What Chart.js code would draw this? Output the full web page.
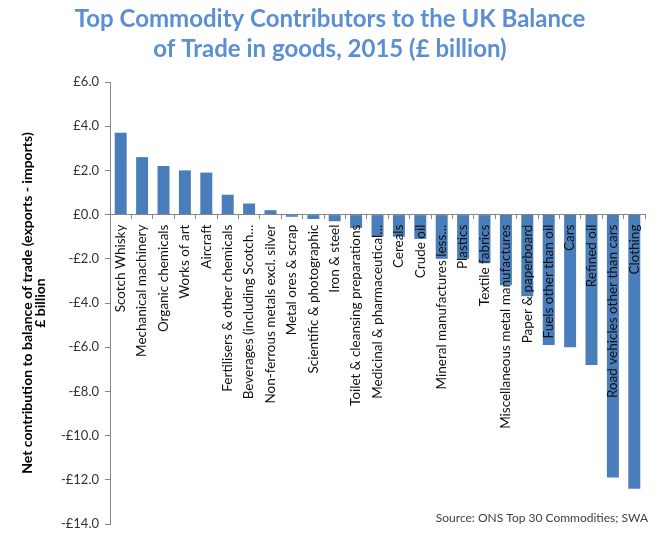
<!DOCTYPE html>
<html>
<head>
<meta charset="utf-8">
<script src="https://cdn.jsdelivr.net/npm/chart.js@4"></script>
<style>
  html, body { margin: 0; padding: 0; background: #fff; }
  #wrap { width: 660px; height: 540px; }
</style>
</head>
<body>
<div id="wrap"><canvas id="graficoBalanza"></canvas></div>
<script>
var categorias = [
    'Scotch Whisky', 'Mechanical machinery', 'Organic chemicals', 'Works of art', 'Aircraft',
    'Fertilisers & other chemicals', 'Beverages (including Scotch\u2026', 'Non-ferrous metals excl. silver',
    'Metal ores & scrap', 'Scientific & photographic', 'Iron & steel', 'Toilet & cleansing preparations',
    'Medicinal & pharmaceutical\u2026', 'Cereals', 'Crude oil', 'Mineral manufactures less\u2026',
    'Plastics', 'Textile fabrics', 'Miscellaneous metal manufactures', 'Paper & paperboard',
    'Fuels other than oil', 'Cars', 'Refined oil', 'Road vehicles other than cars', 'Clothing'
];

var valores = [
    3.7, 2.6, 2.2, 2.0, 1.9,
    0.9, 0.5, 0.2,
    -0.1, -0.2, -0.3, -0.6,
    -1.0, -1.0, -1.1, -2.0,
    -2.0, -2.2, -3.2, -3.7,
    -5.9, -6.0, -6.8, -11.9, -12.4
];

var tituloLineas = ['Top Commodity Contributors to the UK Balance', 'of Trade in goods, 2015 (\u00a3 billion)'];
var tituloEjeY = ['Net contribution to balance of trade (exports - imports)', '\u00a3 billion'];
var fuente = 'Source: ONS Top 30 Commodities; SWA';

var gris = '#868686';

// texto de la fuente, dentro del area del grafico
var pluginFuente = {
    id: 'fuente',
    afterDraw: function (chart) {
        var ctx = chart.ctx;
        ctx.save();
        ctx.font = '12px Lato';
        ctx.fillStyle = '#404040';
        ctx.textAlign = 'right';
        ctx.textBaseline = 'middle';
        ctx.fillText(fuente, 648, 518);
        ctx.restore();
    }
};

var ctx = document.getElementById('graficoBalanza').getContext('2d');
var myChart = new Chart(ctx, {
    type: 'bar',
    data: {
        labels: categorias,
        datasets: [{
            data: valores,
            backgroundColor: '#4A7EBB',
            barPercentage: 0.56,
            categoryPercentage: 1.0
        }]
    },
    options: {
        responsive: true,
        maintainAspectRatio: false,
        animation: false,
        devicePixelRatio: 1,
        layout: { padding: { left: 0, right: 0, top: 2, bottom: 16 } },
        plugins: {
            legend: { display: false },
            tooltip: { enabled: false },
            title: {
                display: true,
                text: tituloLineas,
                color: '#5B8FD4',
                font: { family: 'Lato', size: 24, weight: 'bold', lineHeight: 1.25 },
                padding: { top: 2, bottom: 18 }
            }
        },
        scales: {
            x: {
                position: { y: 0 },
                afterFit: function (scale) {
                    scale.height = 0;
                    scale.paddingLeft = 0;
                    scale.paddingRight = 15;
                },
                border: { display: true, color: gris, width: 1 },
                grid: {
                    display: true,
                    offset: true,
                    drawOnChartArea: false,
                    drawTicks: true,
                    tickLength: 4,
                    color: gris
                },
                ticks: {
                    z: 1, // etiquetas encima de las barras
                    autoSkip: false,
                    minRotation: 90,
                    maxRotation: 90,
                    padding: 6,
                    color: '#111',
                    font: { family: 'Lato', size: 13.5 }
                }
            },
            y: {
                min: -14,
                max: 6,
                afterFit: function (scale) { scale.width = 110; },
                border: { display: true, color: gris, width: 1 },
                grid: {
                    display: true,
                    drawOnChartArea: false,
                    drawTicks: true,
                    tickLength: 5,
                    color: gris
                },
                ticks: {
                    stepSize: 2,
                    padding: 6,
                    color: '#333',
                    font: { family: 'Lato', size: 13 },
                    callback: function (v) {
                        return (v < 0 ? '-\u00a3' : '\u00a3') + Math.abs(v).toFixed(1);
                    }
                },
                title: {
                    display: true,
                    text: tituloEjeY,
                    color: '#000',
                    font: { family: 'Lato', size: 14, weight: 'bold', lineHeight: 0.95 },
                    padding: { top: 21, bottom: 0 }
                }
            }
        }
    },
    plugins: [pluginFuente]
});
</script>
</body>
</html>
